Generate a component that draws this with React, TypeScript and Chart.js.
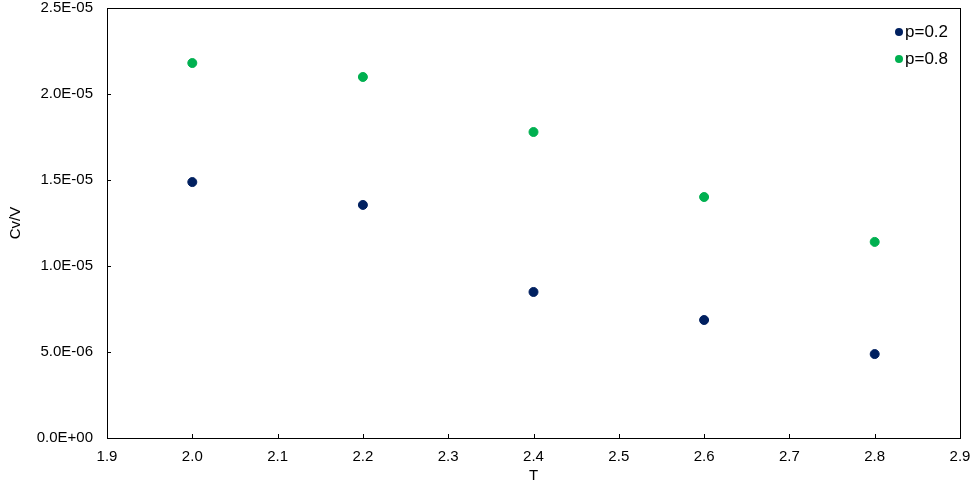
import React, { useEffect, useRef } from "react";
import { Chart, registerables } from "chart.js";

Chart.register(...registerables);

const temperatures = [2.0, 2.2, 2.4, 2.6, 2.8];
const cvP02 = [1.488e-5, 1.355e-5, 0.849e-5, 0.686e-5, 0.488e-5];
const cvP08 = [2.18e-5, 2.099e-5, 1.779e-5, 1.401e-5, 1.14e-5];
const seriesNames = ["p=0.2", "p=0.8"];
const seriesColors = ["#002060", "#00B050"];
const xTitle = "T";
const yTitle = "Cv/V";

const FONT = "'Liberation Sans', Arial, sans-serif";

function fmtExp(v: number): string {
  if (Math.abs(v) < 1e-20) return "0.0E+00";
  const s = v.toExponential(1).toUpperCase();
  const [m, e] = s.split("E");
  const sign = e[0] === "-" ? "-" : "+";
  const digits = e.replace(/[+-]/, "").padStart(2, "0");
  return `${m}E${sign}${digits}`;
}

const framePlugin = {
  id: "frame",
  afterDraw(chart: any) {
    const { ctx, chartArea: a, scales } = chart;
    ctx.save();
    ctx.strokeStyle = "#000";
    ctx.lineWidth = 1;
    ctx.strokeRect(Math.round(a.left) + 0.5, Math.round(a.top) + 0.5, Math.round(a.right - a.left), Math.round(a.bottom - a.top));
    ctx.beginPath();
    scales.x.ticks.forEach((t: any) => {
      const px = Math.round(scales.x.getPixelForValue(t.value)) + 0.5;
      ctx.moveTo(px, a.bottom);
      ctx.lineTo(px, a.bottom - 4);
    });
    scales.y.ticks.forEach((t: any) => {
      const py = Math.round(scales.y.getPixelForValue(t.value)) + 0.5;
      ctx.moveTo(a.left, py);
      ctx.lineTo(a.left + 4, py);
    });
    ctx.stroke();
    // legend
    ctx.font = `17px ${FONT}`;
    ctx.textBaseline = "middle";
    ctx.textAlign = "left";
    seriesNames.forEach((name, i) => {
      const y = a.top + 24 + i * 27;
      const x = a.right - 61;
      ctx.fillStyle = seriesColors[i];
      ctx.beginPath();
      ctx.arc(x, y, 4, 0, Math.PI * 2);
      ctx.fill();
      ctx.fillStyle = "#000";
      ctx.fillText(name, x + 6, y);
    });
    ctx.restore();
  },
};

export default function App() {
  const ref = useRef<HTMLCanvasElement>(null);
  useEffect(() => {
    document.body.style.margin = "0";
    const ds = [cvP02, cvP08].map((vals, i) => ({
      label: seriesNames[i],
      data: temperatures.map((t, j) => ({ x: t, y: vals[j] })),
      backgroundColor: seriesColors[i],
      borderColor: seriesColors[i],
      pointRadius: 4.5,
      showLine: false,
    }));
    const chart = new Chart(ref.current!, {
      type: "scatter",
      data: { datasets: ds },
      options: {
        animation: false,
        responsive: false,
        layout: { padding: { top: 8, right: 17, left: 0, bottom: 0 } },
        plugins: { legend: { display: false }, tooltip: { enabled: false } },
        scales: {
          x: {
            type: "linear",
            min: 1.9,
            max: 2.9,
            afterBuildTicks: (s: any) => {
              const arr = [];
              for (let i = 0; i <= 10; i++) arr.push({ value: +(1.9 + i * 0.1).toFixed(1) });
              s.ticks = arr;
            },
            afterFit: (s: any) => { s.height = 50; s.paddingLeft = 0; s.paddingRight = 0; },
            ticks: {
              callback: (v: any) => Number(v).toFixed(1),
              font: { family: FONT, size: 15 },
              color: "#000",
              padding: 10,
              maxRotation: 0,
              autoSkip: false,
            },
            grid: { drawOnChartArea: false, drawTicks: false },
            border: { display: false },
            title: { display: true, text: xTitle, font: { family: FONT, size: 15 }, color: "#000", padding: { top: 0, bottom: 3 } },
          },
          y: {
            type: "linear",
            min: 0,
            max: 2.5e-5,
            afterBuildTicks: (s: any) => {
              const arr = [];
              for (let i = 0; i <= 5; i++) arr.push({ value: i * 5e-6 });
              s.ticks = arr;
            },
            afterFit: (s: any) => { s.width = 107; s.paddingTop = 0; s.paddingBottom = 0; },
            ticks: {
              callback: (v: any) => fmtExp(Number(v)),
              font: { family: FONT, size: 15 },
              color: "#000",
              padding: 14,
              autoSkip: false,
            },
            grid: { drawOnChartArea: false, drawTicks: false },
            border: { display: false },
            title: { display: true, text: yTitle, font: { family: FONT, size: 15 }, color: "#000", padding: { top: 7, bottom: 0 } },
          },
        },
      },
      plugins: [framePlugin],
    } as any);
    return () => chart.destroy();
  }, []);
  return <canvas ref={ref} width={977} height={488} style={{ display: "block" }} />;
}
